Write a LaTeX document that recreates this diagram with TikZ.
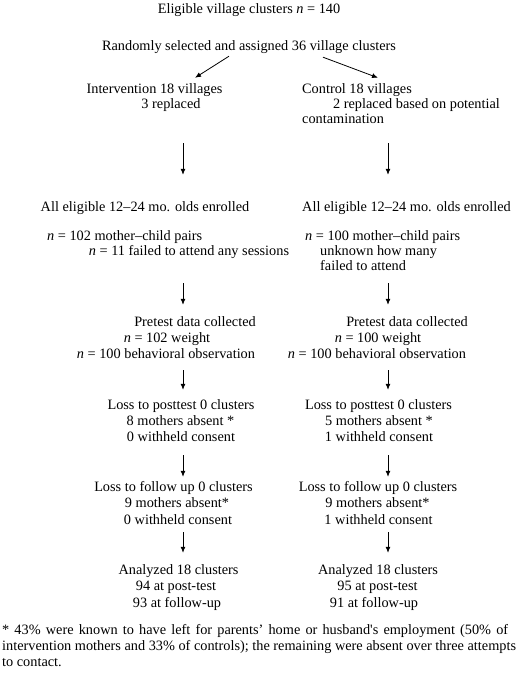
\documentclass[tikz,border=0pt]{standalone}
\usepackage{fontspec}
\setmainfont{Liberation Serif}
\usepackage{tikz}
\usetikzlibrary{arrows.meta}

\begin{document}
\begin{tikzpicture}[x=1pt, y=-1pt, every node/.style={inner sep=0pt, text height=10pt, text depth=3.5pt, anchor=base, font=\fontsize{14.3}{16}\selectfont}, arr/.style={-{Latex[length=6pt,width=5pt]}, line width=0.8pt}]
                    \useasboundingbox (0,0) rectangle (518,678);
                    \coordinate (colL) at (183,0); \coordinate (colR) at (388,0);
                    % top
                    \node (E) at (249,13.5) {Eligible village clusters \textit{n} = 140};
                    \node (R) at (249,50.5) {Randomly selected and assigned 36 village clusters};
                    \node (I1) at (154.5,93.5) {Intervention 18 villages};
                    \node (I2) at (171,108.5) {3 replaced};
                    \node (C1) at (357,93.5) {Control 18 villages};
                    \node (C2) at (416.5,108.5) {2 replaced based on potential};
                    \node[anchor=base west] (C3) at (302,123.5) {contamination};
                    % enrolment
                    \node (LA1) at (145,211.5) {All eligible 12--24 mo. olds enrolled};
                    \node[anchor=base west] (LA2) at (47,240.5) {\textit{n} = 102 mother--child pairs};
                    \node (LA3) at (189,255.5) {\textit{n} = 11 failed to attend any sessions};
                    \node (RA1) at (406.5,211.5) {All eligible 12--24 mo. olds enrolled};
                    \node[anchor=base west] (RA2) at (305,240.5) {\textit{n} = 100 mother--child pairs};
                    \node[anchor=base west] (RA3) at (320,255.5) {unknown how many};
                    \node[anchor=base west] (RA4) at (320,270.5) {failed to attend};
                    % pretest
                    \node (LB1) at (195,326.5) {Pretest data collected};
                    \node (LB2) at (167,342.5) {\textit{n} = 102 weight};
                    \node (LB3) at (166,358.5) {\textit{n} = 100 behavioral observation};
                    \node (RB1) at (407,326.5) {Pretest data collected};
                    \node (RB2) at (378,342.5) {\textit{n} = 100 weight};
                    \node (RB3) at (377,358.5) {\textit{n} = 100 behavioral observation};
                    % posttest
                    \node (LC1) at (181,409.5) {Loss to posttest 0 clusters};
                    \node (LC2) at (180.5,425.5) {8 mothers absent *};
                    \node (LC3) at (181,441.5) {0 withheld consent};
                    \node (RC1) at (378.5,409.5) {Loss to posttest 0 clusters};
                    \node (RC2) at (379,425.5) {5 mothers absent *};
                    \node (RC3) at (379,441.5) {1 withheld consent};
                    % follow up
                    \node (LD1) at (173.5,491.5) {Loss to follow up 0 clusters};
                    \node (LD2) at (177,507.5) {9 mothers absent*};
                    \node (LD3) at (178,524.5) {0 withheld consent};
                    \node (RD1) at (378,491.5) {Loss to follow up 0 clusters};
                    \node (RD2) at (377.5,507.5) {9 mothers absent*};
                    \node (RD3) at (378.5,524.5) {1 withheld consent};
                    % analyzed
                    \node (LE1) at (178.5,574.5) {Analyzed 18 clusters};
                    \node (LE2) at (176,590.5) {94 at post-test};
                    \node (LE3) at (177,607.5) {93 at follow-up};
                    \node (RE1) at (378,574.5) {Analyzed 18 clusters};
                    \node (RE2) at (377.5,590.5) {95 at post-test};
                    \node (RE3) at (374,607.5) {91 at follow-up};
                    % footnote
                    \node[anchor=base west] (F1) at (2,634.5) {\makebox[506pt][s]{* 43\% were known to have left for parents’ home or husband\textquotesingle s employment (50\% of}};
                    \node[anchor=base west] (F2) at (2,650.5) {intervention mothers and 33\% of controls); the remaining were absent over three attempts};
                    \node[anchor=base west] (F3) at (2,666.5) {to contact.};
                    % arrows
                    \draw[arr] ([xshift=-20pt,yshift=-2pt]R.south) -- ([xshift=40.5pt,yshift=5.5pt]I1.north); \draw[arr] ([xshift=74pt,yshift=-3pt]R.south) -- ([xshift=21pt,yshift=5.5pt]C1.north);
                    \draw[arr, shorten <=31pt, shorten >=26.5pt] (I2.south -| colL) -- (LA1.north -| colL); \draw[arr, shorten <=16pt, shorten >=26.5pt] (C3.south -| colR) -- (RA1.north -| colR);
                    \draw[arr, shorten <=24pt, shorten >=11.5pt] (LA3.south -| colL) -- (LB1.north -| colL); \draw[arr, shorten <=9pt, shorten >=11.5pt] (RA4.south -| colR) -- (RB1.north -| colR);
                    \draw[arr, shorten <=8pt, shorten >=9.5pt] (LB3.south -| colL) -- (LC1.north -| colL); \draw[arr, shorten <=8pt, shorten >=9.5pt] (RB3.south -| colR) -- (RC1.north -| colR);
                    \draw[arr, shorten <=10pt, shorten >=4.5pt] (LC3.south -| colL) -- (LD1.north -| colL); \draw[arr, shorten <=10pt, shorten >=4.5pt] (RC3.south -| colR) -- (RD1.north -| colR);
                    \draw[arr, shorten <=4pt, shorten >=11.5pt] (LD3.south -| colL) -- (LE1.north -| colL); \draw[arr, shorten <=4pt, shorten >=11.5pt] (RD3.south -| colR) -- (RE1.north -| colR);
                \end{tikzpicture}
\end{document}
